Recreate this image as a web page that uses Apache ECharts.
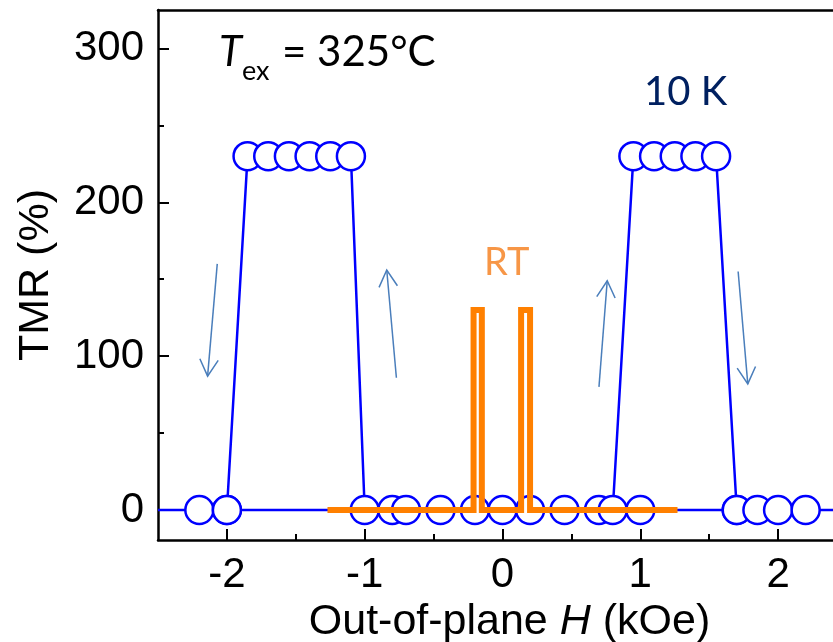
<!DOCTYPE html>
<html>
<head>
<meta charset="utf-8">
<script src="https://cdn.jsdelivr.net/npm/echarts@6/dist/echarts.min.js"></script>
<style>
  html, body { margin: 0; padding: 0; background: #fff; }
  #chart { width: 833px; height: 642px; }
</style>
</head>
<body>
<div id="chart"></div>
<script>
// Axis ranges and ticks
const H_MIN = -2.5, H_MAX = 2.5;
const TMR_MIN = -19.5, TMR_MAX = 325;
const xMajorTicks = [-2, -1, 0, 1, 2];
const xMinorTicks = [-1.5, -0.5, 0.5, 1.5];
const yMajorTicks = [0, 100, 200, 300];
const yMinorTicks = [50, 150, 250];

// 10 K loop: branch with the high-resistance plateau at negative field
const sweepA_H   = [-2.5, -2.2, -2.0, -1.85, -1.7, -1.55, -1.4, -1.25, -1.1, -1.0, -0.8, -0.2, 0.2, 0.7, 1.0, 1.7];
const sweepA_TMR = [0,    0,    0,    230,   230,  230,   230,  230,   230,  0,    0,    0,    0,   0,   0,   0];

// 10 K loop: branch with the high-resistance plateau at positive field
const sweepB_H   = [-2.0, -0.7, -0.45, 0, 0.45, 0.8, 0.95, 1.1, 1.25, 1.4, 1.55, 1.7, 1.85, 2.0, 2.2, 2.5];
const sweepB_TMR = [0,    0,    0,     0, 0,    0,   230,  230, 230,  230, 230,  0,   0,    0,   0,   0];

// Room-temperature loop
const rtH   = [-1.27, -0.21, -0.21, -0.15, -0.15, 0.135, 0.135, 0.20, 0.20, 1.27];
const rtTMR = [0,     0,     130,   130,   0,     0,     130,   130,  0,    0];

// Sweep-direction arrows: [H, TMR] of tail and tip
const arrowTails = [[-2.07, 160], [-0.77, 86], [0.70, 80], [1.71, 155]];
const arrowTips  = [[-2.14, 87],  [-0.84, 156], [0.76, 149], [1.78, 82]];

const zip = (xs, ys) => xs.map((x, i) => [x, ys[i]]);
const AXIS_FONT = 'Liberation Sans, Arial, sans-serif';
const NOTE_FONT = 'Lato, sans-serif';
const BLUE = '#0000ff';

// Points that sit on the plot edges only extend the line; no marker there
const markerAt = (v) => (v[0] <= H_MIN || v[0] >= H_MAX) ? 'none' : 'circle';

const chart = echarts.init(document.getElementById('chart'), null, { renderer: 'canvas' });

const axisLineStyle = { color: '#000', width: 2.5 };
const tickStyle = { color: '#000', width: 2 };

const noteText = (text, left, top, size, color, italic) => ({
  type: 'text', left: left, top: top,
  style: {
    text: text, fontFamily: NOTE_FONT, fontSize: size,
    fontStyle: italic ? 'italic' : 'normal', fill: color
  }
});

const option = {
  animation: false,
  grid: { left: 158, top: 10, width: 689, height: 530, outerBoundsMode: 'none', containLabel: false },
  xAxis: [
    {
      type: 'value', min: H_MIN, max: H_MAX, position: 'bottom',
      axisLine: { onZero: false, lineStyle: axisLineStyle },
      axisTick: { inside: true, length: 11, customValues: xMajorTicks, lineStyle: tickStyle },
      axisLabel: { customValues: xMajorTicks, fontSize: 42, fontFamily: AXIS_FONT, color: '#000', margin: 14 },
      splitLine: { show: false },
      name: '{a|Out-of-plane }{i|H}{a| (kOe)}',
      nameLocation: 'middle', nameGap: 50,
      nameTextStyle: {
        padding: [0, 0, 0, 14],
        rich: {
          a: { fontSize: 43, fontFamily: AXIS_FONT, color: '#000' },
          i: { fontSize: 43, fontFamily: AXIS_FONT, fontStyle: 'italic', color: '#000' }
        }
      }
    },
    {
      type: 'value', min: H_MIN, max: H_MAX, position: 'bottom',
      axisLine: { show: false, onZero: false },
      axisTick: { inside: true, length: 6, customValues: xMinorTicks, lineStyle: tickStyle },
      axisLabel: { show: false }, splitLine: { show: false }
    },
    {
      type: 'value', min: H_MIN, max: H_MAX, position: 'top',
      axisLine: { onZero: false, lineStyle: axisLineStyle },
      axisTick: { show: false }, axisLabel: { show: false }, splitLine: { show: false }
    }
  ],
  yAxis: [
    {
      type: 'value', min: TMR_MIN, max: TMR_MAX, position: 'left',
      axisLine: { onZero: false, lineStyle: axisLineStyle },
      axisTick: { inside: true, length: 11, customValues: yMajorTicks, lineStyle: tickStyle },
      axisLabel: { customValues: yMajorTicks, fontSize: 42, fontFamily: AXIS_FONT, color: '#000', margin: 14 },
      splitLine: { show: false },
      name: 'TMR (%)', nameLocation: 'middle', nameGap: 100, nameRotate: 90,
      nameTextStyle: { fontSize: 43, fontFamily: AXIS_FONT, color: '#000' }
    },
    {
      type: 'value', min: TMR_MIN, max: TMR_MAX, position: 'left',
      axisLine: { show: false, onZero: false },
      axisTick: { inside: true, length: 6, customValues: yMinorTicks, lineStyle: tickStyle },
      axisLabel: { show: false }, splitLine: { show: false }
    }
  ],
  series: [
    {
      name: '10 K (A)', type: 'line', data: zip(sweepA_H, sweepA_TMR),
      symbol: markerAt, symbolSize: 28,
      itemStyle: { color: '#fff', borderColor: BLUE, borderWidth: 2.5 },
      lineStyle: { color: BLUE, width: 2.5 }, z: 2
    },
    {
      name: '10 K (B)', type: 'line', data: zip(sweepB_H, sweepB_TMR),
      symbol: markerAt, symbolSize: 28,
      itemStyle: { color: '#fff', borderColor: BLUE, borderWidth: 2.5 },
      lineStyle: { color: BLUE, width: 2.5 }, z: 2
    },
    {
      name: 'RT', type: 'line', data: zip(rtH, rtTMR), symbol: 'none',
      lineStyle: { color: '#ff8000', width: 6, join: 'miter', cap: 'butt' }, z: 3
    },
    {
      name: 'sweep direction', type: 'custom', z: 4,
      data: arrowTails.map((t, i) => [t[0], t[1], arrowTips[i][0], arrowTips[i][1]]),
      encode: { x: [0, 2], y: [1, 3] },
      renderItem: function (params, api) {
        const p1 = api.coord([api.value(0), api.value(1)]);
        const p2 = api.coord([api.value(2), api.value(3)]);
        const ang = Math.atan2(p2[1] - p1[1], p2[0] - p1[0]);
        const L = 19, spread = 29 * Math.PI / 180;
        const w1 = [p2[0] - L * Math.cos(ang - spread), p2[1] - L * Math.sin(ang - spread)];
        const w2 = [p2[0] - L * Math.cos(ang + spread), p2[1] - L * Math.sin(ang + spread)];
        const st = { stroke: '#4a7ebb', lineWidth: 1.5, fill: null };
        return {
          type: 'group',
          children: [
            { type: 'line', shape: { x1: p1[0], y1: p1[1], x2: p2[0], y2: p2[1] }, style: st },
            { type: 'polyline', shape: { points: [w1, p2, w2] }, style: st }
          ]
        };
      }
    }
  ],
  graphic: [
    noteText('T', 219, 31, 42, '#000', true),
    noteText('ex', 242, 58, 27, '#000', false),
    noteText('= 325°C', 282, 31, 42, '#000', false),
    noteText('10 K', 644, 72, 40, '#002060', false),
    noteText('RT', 484, 244, 38, '#f79646', false)
  ]
};

chart.setOption(option);
</script>
</body>
</html>
